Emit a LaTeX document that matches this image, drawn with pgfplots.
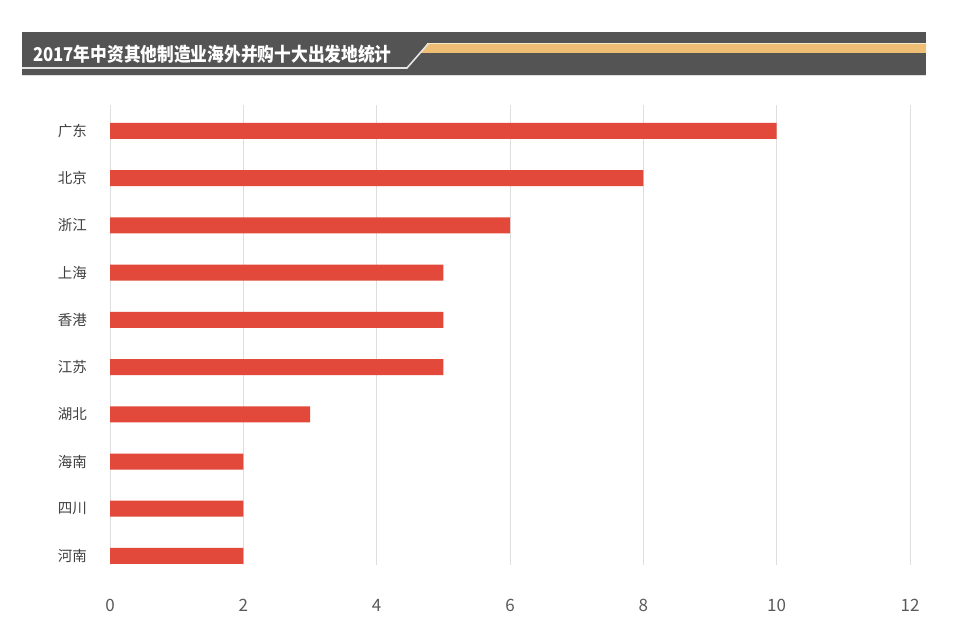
\documentclass[border=0pt]{standalone}
\usepackage{pgfplots}
\pgfplotsset{compat=1.18}
\usepackage{fontspec}
\setmainfont{Noto Sans CJK SC}
\definecolor{barred}{HTML}{E2493A}
\definecolor{banner}{HTML}{545454}
\definecolor{gold}{HTML}{EDBE74}
\definecolor{cream}{HTML}{F6E7C8}
\definecolor{ticktext}{HTML}{5A5A5A}
\begin{document}
\begin{tikzpicture}[x=1pt,y=1pt]
\path (0,0) rectangle (960,634);
% banner
\fill[banner] (22,602) rectangle (926,559);
\fill[gold] (427,590) -- (926,590) -- (926,581) -- (420,581) -- cycle;
\draw[cream, line width=1.2pt] (427,590.5) -- (926,590.5);
\draw[gray!20, line width=1.6pt] (22,566) -- (407,566) -- (428,590);
\draw[gray!25, line width=0.8pt] (22,558.5) -- (926,558.5);
\node[anchor=west, text=white, font=\fontsize{19}{22}\selectfont\bfseries, inner sep=0pt] at (33,580) {\scalebox{0.88}[1]{2017年中资其他制造业海外并购十大出发地统计}};
\begin{axis}[
  at={(110pt,68.6pt)}, anchor=south west,
  scale only axis, width=800pt, height=460.4pt,
  xmin=0, xmax=12, ymin=-0.55, ymax=9.2,
  y dir=reverse,
  xbar, bar width=16pt,
  axis line style={draw=none},
  xmajorgrids, grid style={black!13, line width=0.9pt},
  xtick={0,2,4,6,8,10,12},
  ytick={0,1,2,3,4,5,6,7,8,9},
  yticklabels={广东,北京,浙江,上海,香港,江苏,湖北,海南,四川,河南},
  major tick length=0pt,
  /pgf/number format/assume math mode=true,
  x tick label style={anchor=center, yshift=-40pt, text=ticktext, font=\fontsize{17}{20}\selectfont},
  y tick label style={anchor=east, inner sep=0pt, xshift=-23pt, text=black!75, font=\fontsize{14.5}{17}\selectfont},
]
\addplot[fill=barred, draw=none] coordinates {(10,0) (8,1) (6,2) (5,3) (5,4) (5,5) (3,6) (2,7) (2,8) (2,9)};
\end{axis}
\end{tikzpicture}
\end{document}
